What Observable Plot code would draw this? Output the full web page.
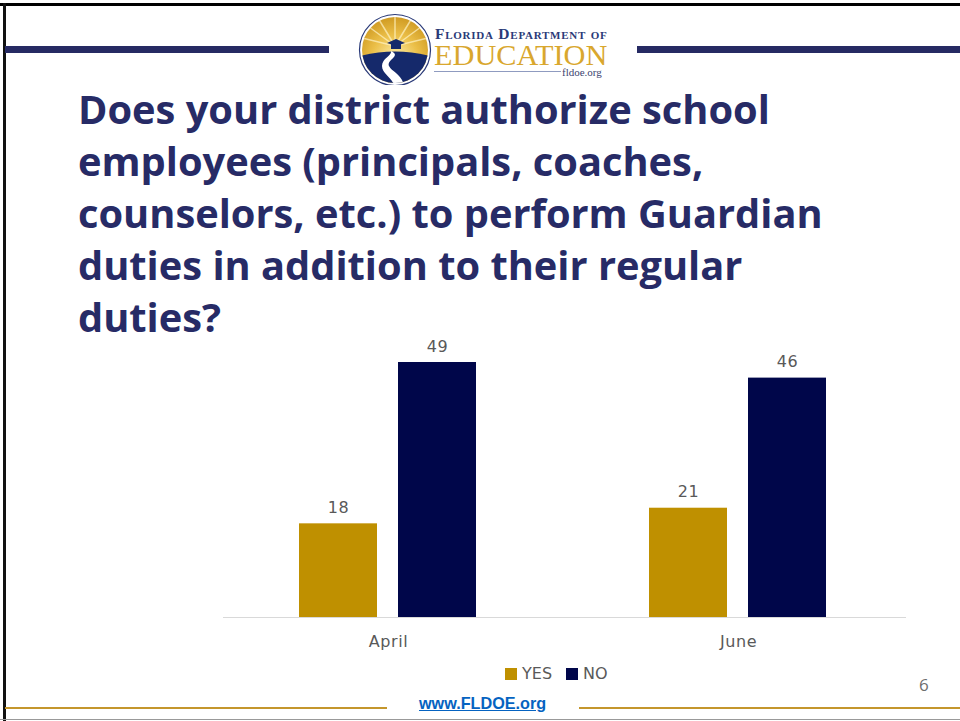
<!DOCTYPE html>
<html>
<head>
<meta charset="utf-8">
<script src="https://cdn.jsdelivr.net/npm/d3@7"></script>
<script src="https://cdn.jsdelivr.net/npm/@observablehq/plot@0.6"></script>
<style>
html,body{margin:0;padding:0;background:#fff;}
#slide{position:relative;width:960px;height:721px;overflow:hidden;background:#fff;}
#slide>*{position:absolute;}
.bar{display:block;}
#title{left:78px;top:83px;width:860px;margin:0;font:700 39.8px/52px "Open Sans",sans-serif;color:#272b66;}
#chart{left:0;top:0;}
#chart text{letter-spacing:0.6px;}
#legend{left:505px;top:664px;font:16px "DejaVu Sans",sans-serif;color:#595959;white-space:nowrap;display:flex;align-items:center;}
#legend i{display:inline-block;width:12px;height:12px;margin-right:5px;}
#legend span{margin-right:14px;}
#link{left:419px;top:694px;font:700 16.2px "Liberation Sans",sans-serif;color:#0563c1;text-decoration:underline;}
#page{left:919px;top:673px;font:17px "Open Sans",sans-serif;color:#6e6e6e;}
</style>
</head>
<body>
<div id="slide">
  <div class="bar" style="left:0;top:3px;width:960px;height:3px;background:#000"></div>
  <div class="bar" style="left:3px;top:3px;width:3px;height:718px;background:#111"></div>
  <div class="bar" style="left:5px;top:46px;width:324px;height:7px;background:#262a63"></div>
  <div class="bar" style="left:637px;top:46px;width:323px;height:7px;background:#262a63"></div>
  <div class="bar" style="left:5px;top:707px;width:382px;height:2px;background:#c4962c"></div>
  <div class="bar" style="left:579px;top:707px;width:381px;height:2px;background:#c4962c"></div>
  <div class="bar" style="left:0;top:719px;width:960px;height:1px;background:#999"></div>
  <svg id="logo" style="left:355px;top:10px" width="265" height="75" viewBox="355 10 265 75">
    <defs>
      <radialGradient id="sky" cx="0.5" cy="0.62" r="0.6"><stop offset="0" stop-color="#fbeeb0"/><stop offset="0.55" stop-color="#ecc04a"/><stop offset="1" stop-color="#cf9a22"/></radialGradient>
      <clipPath id="disc"><circle cx="395" cy="50" r="33"/></clipPath>
    </defs>
    <circle cx="395" cy="50" r="35.5" fill="#fff" stroke="#2a3a78" stroke-width="1.2"/>
    <g clip-path="url(#disc)">
      <rect x="360" y="15" width="70" height="70" fill="url(#sky)"/>
      <path d="M395 46 L365 24 M395 46 L378 18 M395 46 L395 16 M395 46 L412 18 M395 46 L425 24 M395 46 L362 38 M395 46 L428 38" stroke="#fff3c4" stroke-width="1.5" opacity="0.7"/>
      <path d="M360 56 Q395 47 430 56 V86 H360Z" fill="#15296b"/>
      <path d="M391 51 C402 56 386 60 389 66 C392 72 402 74 404 86 L394 86 C393 78 382 74 382 66 C382 58 392 56 391 51Z" fill="#fff"/>
    </g>
    <path d="M387 43 L396 39 L405 43 L396 46Z" fill="#15296b"/><rect x="391" y="44" width="10" height="5" fill="#15296b"/>
    <text x="435" y="39" font-family="Liberation Serif" font-size="15.5" font-weight="700" fill="#2a3a78" style="font-variant:small-caps;letter-spacing:0.75px">Florida Department of</text>
    <text x="434" y="65" font-family="Liberation Serif" font-size="30.3" fill="#d9a72e">EDUCATION</text>
    <rect x="434" y="71" width="127" height="1" fill="#8f9bc0"/>
    <text x="562" y="76" font-family="Liberation Serif" font-size="11" fill="#3b4470">fldoe.org</text>
  </svg>
  <h1 id="title">Does your district authorize school<br>employees (principals, coaches,<br>counselors, etc.) to perform Guardian<br>duties in addition to their regular<br>duties?</h1>
  <div id="legend"></div>
  <a id="link">www.FLDOE.org</a>
  <div id="page">6</div>
</div>
<script>
const months = ["April", "June"];
const answers = ["YES", "NO"];
const yesValues = [18, 21];
const noValues = [49, 46];
const answerColors = ["#bf9000", "#00064a"];

const rows = months.flatMap((month, i) => [
  {month, answer: answers[0], value: yesValues[i]},
  {month, answer: answers[1], value: noValues[i]}
]);

const chart = Plot.plot({
  width: 960,
  height: 721,
  marginTop: 0, marginBottom: 0, marginLeft: 0, marginRight: 0,
  style: {background: "transparent", fontFamily: "DejaVu Sans", overflow: "visible"},
  fx: {domain: months, range: [213, 913], padding: 0, axis: null},
  x: {domain: answers, range: [0, 350], paddingInner: 0.21, paddingOuter: 0.86, align: 0.5, axis: null},
  y: {domain: [0, 49], range: [617, 362], axis: null},
  color: {domain: answers, range: answerColors},
  marks: [
    Plot.barY(rows, {fx: "month", x: "answer", y: "value", fill: "answer"}),
    Plot.ruleY(rows.filter(d => d.answer === answers[0] && d.month === months[0]), {fx: "month", y: () => 0, stroke: "#d9d9d9", strokeWidth: 1, insetLeft: 10}),
    Plot.ruleY(rows.filter(d => d.answer === answers[0] && d.month === months[1]), {fx: "month", y: () => 0, stroke: "#d9d9d9", strokeWidth: 1, insetRight: 7}),
    Plot.text(rows, {fx: "month", x: "answer", y: "value", text: "value", dy: -16, fill: "#595959", fontSize: 16}),
    Plot.text(months, {fx: d => d, frameAnchor: "top", y: () => 0, dy: 18, text: d => d, fill: "#595959", fontSize: 16})
  ]
});
chart.id = "chart";
const slide = document.getElementById("slide");
slide.insertBefore(chart, document.getElementById("legend"));

const legend = document.getElementById("legend");
answers.forEach((a, i) => {
  const sw = document.createElement("i");
  sw.style.background = answerColors[i];
  const label = document.createElement("span");
  label.textContent = a;
  legend.append(sw, label);
});
</script>
</body>
</html>
